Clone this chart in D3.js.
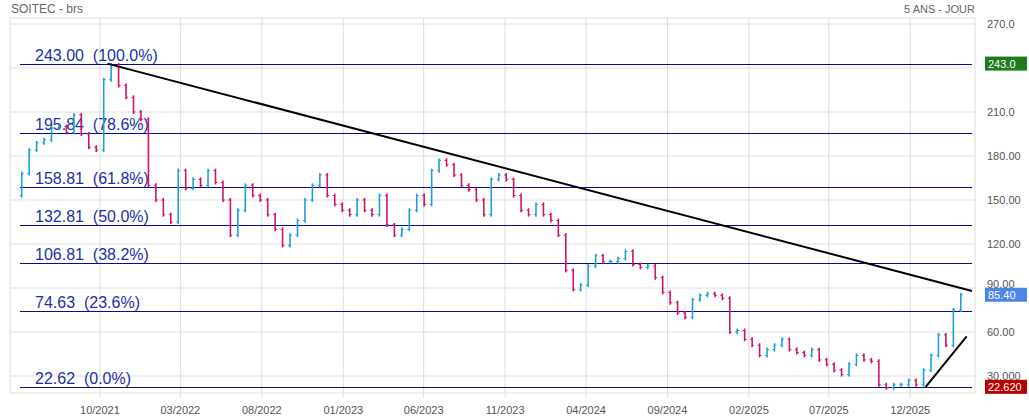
<!DOCTYPE html>
<html><head><meta charset="utf-8">
<script src="https://cdnjs.cloudflare.com/ajax/libs/d3/7.8.5/d3.min.js"></script>
<style>body{margin:0;background:#fff}svg{font-family:Arial,"Liberation Sans",sans-serif}</style>
</head><body><div id="chart"></div>
<script>
// biweekly closes starting 2021-04-23
const startDate = new Date(2021, 3, 23);
const closes = [153,168,184,189,191,199,200,196,208,195,186,184,232,242,228,220,210,205,160,150,
  140,135,170,158,164,160,170,162,150,126,143,160,153,150,140,130,119,126,136,150,
  160,167,153,147,143,140,150,143,140,153,133,126,130,143,153,147,170,177,174,167,
  160,157,150,140,164,167,164,153,143,140,147,140,136,126,102,89,92,105,112,108,
  108,110,115,106,104,105,97,87,80,73,70,82,85,86,85,83,60,61,55,51,
  44,48,51,55,48,46,44,48,41,38,34,31,38,44,41,40,24,22,24,24,
  27,24,34,44,58,51,75,85.4];
const fibLevels = [243.00, 195.84, 158.81, 132.81, 106.81, 74.63, 22.62];
const fibPcts = ['100.0%', '78.6%', '61.8%', '50.0%', '38.2%', '23.6%', '0.0%'];
const yTicks = [30, 60, 90, 120, 150, 180, 210, 240, 270];
const yTickLabels = ['30.000', '60.00', '90.00', '120.00', '150.00', '180.00', '210.0', '', '270.0'];
const xTicks = ['2021-10', '2022-03', '2022-08', '2023-01', '2023-06', '2023-11', '2024-04', '2024-09', '2025-02', '2025-07', '2025-12'];
const trendLines = [[['2021-10-15', 243], ['2026-03-27', 88]], [['2025-12-30', 22.62], ['2026-03-17', 57]]];
const priceTags = [{v: 243.0, t: '243.0', c: '#1b7d1b'}, {v: 85.4, t: '85.40', c: '#4a86e8'}, {v: 22.62, t: '22.620', c: '#b80000'}];

const W = 1029, H = 419, L = 10, R = 972, T = 18, B = 393;
const svg = d3.select('#chart').append('svg').attr('width', W).attr('height', H);
const x = d3.scaleTime().domain([new Date(2021, 3, 15), new Date(2026, 2, 27)]).range([L, R]);
const y = d3.scaleLinear().domain([30, 270]).range([376, 24]);
const dates = closes.map((c, i) => d3.timeDay.offset(startDate, i * 14));
const pd = s => { const p = s.split('-').map(Number); return new Date(p[0], p[1] - 1, p[2] || 1); };

// grid
svg.append('g').selectAll('line').data(yTicks).join('line')
  .attr('x1', L).attr('x2', R + 3).attr('y1', d => y(d)).attr('y2', d => y(d)).attr('stroke', '#ddd');
svg.append('g').selectAll('line').data(xTicks).join('line')
  .attr('x1', d => x(pd(d))).attr('x2', d => x(pd(d))).attr('y1', T).attr('y2', B + 4).attr('stroke', '#ddd');
svg.append('rect').attr('x', L).attr('y', T).attr('width', R + 3 - L).attr('height', B - T).attr('fill', 'none').attr('stroke', '#ddd');

svg.append('g').selectAll('text').data(xTicks).join('text')
  .attr('x', d => x(pd(d))).attr('y', 414).attr('text-anchor', 'middle').attr('font-size', 11).attr('fill', '#555')
  .text(d => d.slice(5) + '/' + d.slice(0, 4));
svg.append('g').selectAll('text').data(yTicks).join('text')
  .attr('x', 987).attr('y', d => y(d) + (d === 90 ? 0 : 4)).attr('font-size', 11).attr('fill', '#555')
  .text((d, i) => yTickLabels[i]);

// fib levels
const fib = svg.append('g');
fib.selectAll('line').data(fibLevels).join('line')
  .attr('x1', 20).attr('x2', R).attr('y1', d => Math.round(y(d)) + 0.5).attr('y2', d => Math.round(y(d)) + 0.5)
  .attr('stroke', '#0a0a9a').attr('stroke-width', 1.2);
fib.selectAll('text').data(fibLevels).join('text')
  .attr('x', 35).attr('y', d => y(d) - 3).attr('font-size', 16).attr('fill', '#1c2fa8')
  .attr('xml:space', 'preserve')
  .text((d, i) => d.toFixed(2) + '  (' + fibPcts[i] + ')');

// price bars: each bar spans previous close to current close
const bars = svg.append('g');
closes.forEach((c, i) => {
  if (i === 0) return;
  const p = closes[i - 1];
  const xm = x(dates[i]);
  const col = c >= p ? '#1f9fd8' : '#d0126f';
  bars.append('line').attr('x1', xm).attr('x2', xm)
    .attr('y1', y(Math.max(p, c)) - 2).attr('y2', y(Math.min(p, c)) + 2)
    .attr('stroke', col).attr('stroke-width', 1.6);
  bars.append('line').attr('x1', xm - 2).attr('x2', xm).attr('y1', y(p)).attr('y2', y(p)).attr('stroke', col);
  bars.append('line').attr('x1', xm).attr('x2', xm + 2).attr('y1', y(c)).attr('y2', y(c)).attr('stroke', col);
});

// trend lines
svg.append('g').selectAll('line').data(trendLines).join('line')
  .attr('x1', d => x(pd(d[0][0]))).attr('y1', d => y(d[0][1]))
  .attr('x2', d => x(pd(d[1][0]))).attr('y2', d => y(d[1][1]))
  .attr('stroke', '#000').attr('stroke-width', 2);

// price tags
const tags = svg.append('g').selectAll('g').data(priceTags).join('g')
  .attr('transform', d => `translate(985,${y(d.v) - 7})`);
tags.append('rect').attr('width', 42).attr('height', 14).attr('fill', d => d.c);
tags.append('text').attr('x', 3).attr('y', 11).attr('font-size', 11).attr('fill', '#fff').text(d => d.t);

svg.append('text').attr('x', 11).attr('y', 13).attr('font-size', 12).attr('fill', '#666').text('SOITEC - brs');
svg.append('text').attr('x', 975).attr('y', 13).attr('text-anchor', 'end').attr('font-size', 11).attr('fill', '#666').text('5 ANS - JOUR');
</script></body></html>
